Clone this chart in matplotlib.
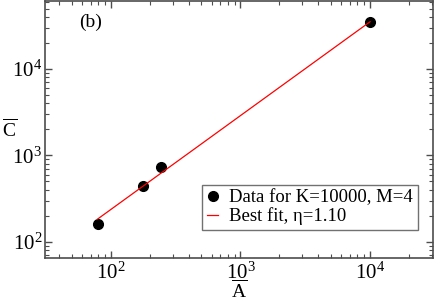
import numpy as np
import matplotlib
matplotlib.use("Agg")
import matplotlib.pyplot as plt

# data
area = [79, 177, 245, 10000]
cost = [160, 443, 729, 35400]
fit_area = [79, 10000]
fit_cost = [183, 35400]

plt.rcParams['font.family'] = ['Liberation Serif', 'DejaVu Serif']
plt.rcParams['mathtext.fontset'] = 'custom'
plt.rcParams['mathtext.rm'] = 'Liberation Serif'
plt.rcParams['mathtext.it'] = 'Liberation Serif:italic'
plt.rcParams['font.size'] = 14

fig = plt.figure(figsize=(4.36, 3.0), dpi=100)
ax = fig.add_axes([0.1032, 0.14, 0.8899, 0.8567])

ax.plot(area, cost, 'o', color='black', markersize=7,
        label='Data for K=10000, M=4')
ax.plot(fit_area, fit_cost, '-', color='red', lw=0.9,
        label='Best fit, \u03b7=1.10')

ax.set_xscale('log')
ax.set_yscale('log')
ax.set_xlim(31, 30600)
ax.set_ylim(64.7, 61600)

ax.tick_params(which='both', direction='in', top=True, right=True,
               color='0.3', labelsize=15)
ax.tick_params(which='major', length=5, width=1)
ax.tick_params(which='minor', length=3, width=0.8)
ax.tick_params(axis='x', pad=3)
ax.tick_params(axis='y', pad=2)
for s in ax.spines.values():
    s.set_color('0.3')
    s.set_linewidth(1.2)

# x label sits just under the 10^3 tick label, as in the original
fig.text(0.5475, 0.007, r'$\overline{\mathrm{A}}$', fontsize=14,
         ha='center', va='baseline')
ax.set_ylabel(r'$\overline{\mathrm{C}}$', fontsize=14, rotation=0,
              va='center', ha='left')
ax.yaxis.set_label_coords(-0.112, 0.5)

ax.text(0.088, 0.918, '(b)', transform=ax.transAxes, fontsize=14,
        va='center')

leg = ax.legend(loc='lower right', bbox_to_anchor=(0.961, 0.109),
                fontsize=13.5, frameon=True, fancybox=False,
                handlelength=0.6, handletextpad=0.6, borderpad=0.25,
                labelspacing=0.05, borderaxespad=0)
leg.get_frame().set_edgecolor('0.3')
leg.get_frame().set_linewidth(1.0)

fig.savefig('out.png', dpi=100)
